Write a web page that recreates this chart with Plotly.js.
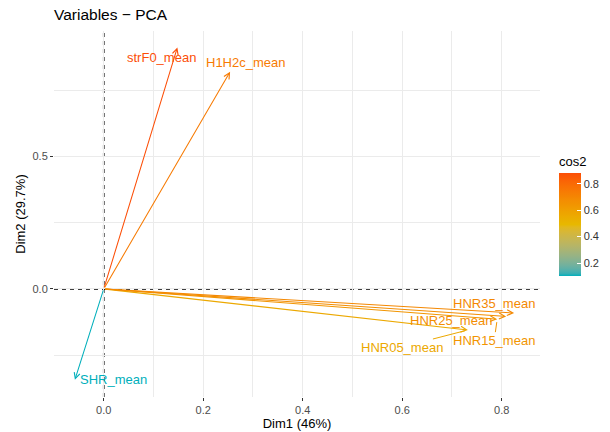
<!DOCTYPE html>
<html>
<head>
<meta charset="utf-8">
<script src="https://cdn.plot.ly/plotly-3.0.1.min.js"></script>
<style>html,body{margin:0;padding:0;background:#fff;}#chart{width:610px;height:432px;}</style>
</head>
<body>
<div id="chart"></div>
<script>
// ---- data ----
var variables = ["strF0_mean", "H1H2c_mean", "SHR_mean", "HNR05_mean", "HNR15_mean", "HNR25_mean", "HNR35_mean"];
var dim1 = [0.148, 0.254, -0.058, 0.732, 0.791, 0.809, 0.825];
var dim2 = [0.912, 0.820, -0.343, -0.155, -0.114, -0.104, -0.091];
var cos2 = [0.88, 0.74, 0.10, 0.56, 0.64, 0.67, 0.69];
var gradientCols = ["#00AFBB", "#E7B800", "#FC4E07"];
var xTicks = [0, 0.2, 0.4, 0.6, 0.8];
var yTicks = [0, 0.5];
var cbTicks = [0.2, 0.4, 0.6, 0.8];

// ---- label placement (pixel offsets from arrow tip, ggrepel-like) ----
var labelDx = [-16, 16, 39, -66, -3, -55, -20];
var labelDy = [-10, 9, 0, -17, -21, -4, 10];   // positive = up
var labelSeg = [false, false, false, true, true, false, false];

// ---- colour helpers: CIELAB interpolation like ggplot2 ----
function hexToRgb(h){h=h.replace('#','');return [parseInt(h.substr(0,2),16),parseInt(h.substr(2,2),16),parseInt(h.substr(4,2),16)];}
function lin(c){c/=255;return c<=0.04045?c/12.92:Math.pow((c+0.055)/1.055,2.4);}
function delin(c){c=c<=0.0031308?12.92*c:1.055*Math.pow(c,1/2.4)-0.055;return Math.max(0,Math.min(255,Math.round(c*255)));}
function rgbToLab(rgb){
  var r=lin(rgb[0]),g=lin(rgb[1]),b=lin(rgb[2]);
  var X=(0.4124*r+0.3576*g+0.1805*b)/0.95047,Y=(0.2126*r+0.7152*g+0.0722*b),Z=(0.0193*r+0.1192*g+0.9505*b)/1.08883;
  function f(t){return t>0.008856?Math.cbrt(t):7.787*t+16/116;}
  return [116*f(Y)-16,500*(f(X)-f(Y)),200*(f(Y)-f(Z))];
}
function labToRgb(lab){
  var fy=(lab[0]+16)/116,fx=fy+lab[1]/500,fz=fy-lab[2]/200;
  function fi(t){return t*t*t>0.008856?t*t*t:(t-16/116)/7.787;}
  var X=fi(fx)*0.95047,Y=fi(fy),Z=fi(fz)*1.08883;
  var r=3.2406*X-1.5372*Y-0.4986*Z,g=-0.9689*X+1.8758*Y+0.0415*Z,b=0.0557*X-0.2040*Y+1.0570*Z;
  return [delin(r),delin(g),delin(b)];
}
var labs = gradientCols.map(function(c){return rgbToLab(hexToRgb(c));});
function colAt(t){
  t=Math.max(0,Math.min(1,t));
  var seg=t<0.5?0:1, u=(t-seg*0.5)/0.5;
  var a=labs[seg],b=labs[seg+1];
  var l=[a[0]+(b[0]-a[0])*u,a[1]+(b[1]-a[1])*u,a[2]+(b[2]-a[2])*u];
  var c=labToRgb(l);
  return 'rgb('+c[0]+','+c[1]+','+c[2]+')';
}
var cmin=Math.min.apply(null,cos2), cmax=Math.max.apply(null,cos2);
var colorscale=[];
for(var i=0;i<=40;i++){colorscale.push([i/40,colAt(i/40)]);}
var cols=cos2.map(function(v){return colAt((v-cmin)/(cmax-cmin));});

var FONT="Liberation Sans, Arial, Helvetica, sans-serif";

// ---- annotations: arrows and labels ----
var annotations=[];
for(var k=0;k<variables.length;k++){
  annotations.push({x:dim1[k],y:dim2[k],xref:'x',yref:'y',ax:0,ay:0,axref:'x',ayref:'y',
    text:'',showarrow:true,arrowhead:5,arrowsize:1.1,arrowwidth:1.05,arrowcolor:cols[k],standoff:0});
}
for(var k=0;k<variables.length;k++){
  if(labelSeg[k]){
    annotations.push({x:dim1[k],y:dim2[k],xref:'x',yref:'y',text:variables[k],
      showarrow:true,arrowhead:0,arrowwidth:1,arrowcolor:cols[k],ax:labelDx[k],ay:-labelDy[k],standoff:3,
      font:{family:FONT,size:13,color:cols[k]},borderpad:0});
  } else {
    annotations.push({x:dim1[k],y:dim2[k],xref:'x',yref:'y',text:variables[k],showarrow:false,
      xshift:labelDx[k],yshift:labelDy[k],font:{family:FONT,size:13,color:cols[k]}});
  }
}

var shapes=[
  {type:'line',xref:'paper',yref:'y',x0:0,x1:1,y0:0,y1:0,layer:'below',line:{color:'#000',width:1.6,dash:'4px,4px'}},
  {type:'line',xref:'x',yref:'paper',x0:0,x1:0,y0:0,y1:1,layer:'below',line:{color:'#000',width:1.6,dash:'4px,4px'}}
];

var trace={
  x:dim1,y:dim2,type:'scatter',mode:'markers',hoverinfo:'skip',showlegend:false,
  marker:{size:1,opacity:0,color:cos2,cmin:cmin,cmax:cmax,colorscale:colorscale,showscale:true,
    colorbar:{title:{text:'cos2',side:'top',font:{family:FONT,size:13,color:'#000'}},
      x:(559-54)/486,xanchor:'left',xpad:0,ypad:0,y:0.498,yanchor:'middle',
      len:122.5,lenmode:'pixels',thickness:22,thicknessmode:'pixels',outlinewidth:0,
      tickvals:cbTicks,ticktext:cbTicks.map(function(v){return v.toFixed(1);}),tickprefix:' ',
      ticks:'inside',ticklen:4,tickcolor:'#fff',tickwidth:1,
      tickfont:{family:FONT,size:11,color:'#333'}}}
};

var axisCommon={showline:false,zeroline:false,gridcolor:'#EBEBEB',gridwidth:1,
  ticks:'outside',ticklen:3,tickcolor:'#333',tickwidth:1,
  tickfont:{family:FONT,size:11,color:'#4D4D4D'}};

var layout={
  width:610,height:432,
  margin:{l:54,r:70,t:31,b:35,autoexpand:false},
  paper_bgcolor:'#fff',plot_bgcolor:'#fff',
  font:{family:FONT},
  title:{text:'Variables \u2212 PCA',xref:'container',yref:'container',x:54/610,xanchor:'left',y:1-15/432,yanchor:'middle',
    font:{family:FONT,size:15.5,color:'#000'}},
  xaxis:Object.assign({},axisCommon,{range:[-0.100,0.877],tickvals:xTicks,ticktext:xTicks.map(function(v){return v.toFixed(1);}),
    minor:{dtick:0.1,tick0:0,showgrid:true,gridcolor:'#EBEBEB',gridwidth:1,ticks:''},
    title:{text:'Dim1 (46%)',font:{family:FONT,size:13,color:'#000'},standoff:2}}),
  yaxis:Object.assign({},axisCommon,{range:[-0.408,0.974],tickvals:yTicks,ticktext:yTicks.map(function(v){return v.toFixed(1);}),
    minor:{dtick:0.25,tick0:0,showgrid:true,gridcolor:'#EBEBEB',gridwidth:1,ticks:''},
    title:{text:'Dim2 (29.7%)',font:{family:FONT,size:13,color:'#000'},standoff:3}}),
  shapes:shapes,
  annotations:annotations
};

Plotly.newPlot('chart',[trace],layout,{displayModeBar:false,staticPlot:true});
</script>
</body>
</html>
